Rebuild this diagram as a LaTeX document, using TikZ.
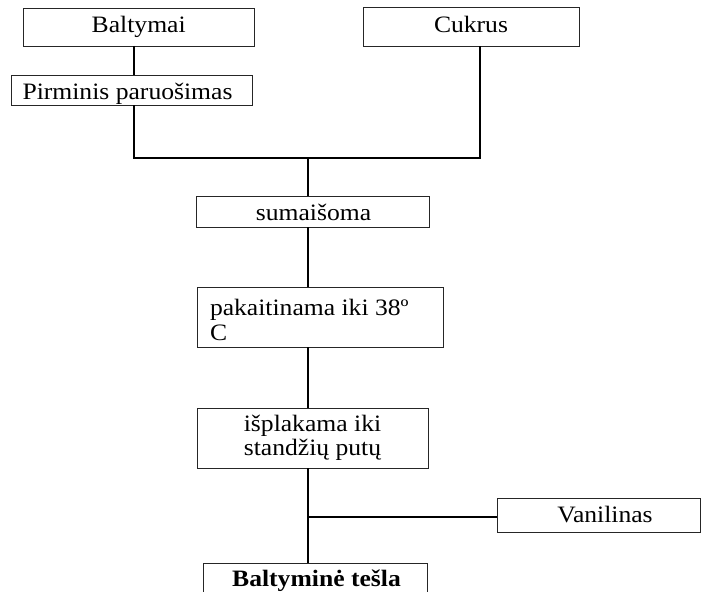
\documentclass[tikz,border=0pt]{standalone}
\usepackage{fontspec}
\setmainfont[FakeStretch=1.09]{Liberation Serif}
\begin{document}
\begin{tikzpicture}[x=1pt,y=-1pt,
  box/.style={draw=black!85, line width=0.9pt, rectangle, inner sep=0pt, outer sep=0pt},
  link/.style={draw=black, line width=1.3pt},
  txt/.style={inner sep=0pt, outer sep=0pt, anchor=base, font=\fontsize{23.5}{24}\selectfont},
  txtl/.style={txt, anchor=base west}]
\useasboundingbox (0,0) rectangle (703,591);
\clip (0,0) rectangle (703,591);

% boxes
\node[box, minimum width=231, minimum height=38] (balt) at (138.5,27) {};
\node[box, minimum width=241, minimum height=30] (pirm) at (131.5,90.5) {};
\node[box, minimum width=216, minimum height=39] (cuk)  at (471,27) {};
\node[box, minimum width=233, minimum height=31] (sum)  at (312.5,211.5) {};
\node[box, minimum width=246, minimum height=60] (pak)  at (320,317) {};
\node[box, minimum width=231, minimum height=60] (isp)  at (312.5,438) {};
\node[box, minimum width=203, minimum height=34] (van)  at (598.5,515) {};
\node[box, minimum width=224, minimum height=44] (bt)   at (315,585) {};

% labels
\node[txt] (baltT) at (138.7,32.5) {Baltymai};
\node[txt] (pirmT) at (127.5,99.5) {Pirminis paruošimas};
\node[txt] (cukT)  at (471,33) {Cukrus};
\node[txt] (sumT)  at (313.5,220.7) {sumaišoma};
\node[txtl] (pakT1) at (210,315.5) {pakaitinama iki 38º};
\node[txtl] (pakT2) at (210,340) {C};
\node[txt] (ispT1) at (312.5,431.7) {išplakama iki};
\node[txt] (ispT2) at (312.5,455.7) {standžių putų};
\node[txt] (vanT)  at (605,522) {Vanilinas};
\node[txt, font=\fontsize{23.5}{24}\selectfont\bfseries] (btT) at (316.5,586.7) {Baltyminė tešla};

% junction points
\coordinate (jl) at (134,158);
\coordinate (jr) at (480,158);
\coordinate (jm) at (308,158);
\coordinate (jv) at (308,517);

% connectors
\draw[link] (balt.south -| jl) -- (pirm.north -| jl);
\draw[link] (pirm.south -| jl) -- (jl) -- (jr) -- (cuk.south -| jr);
\draw[link] (jm) -- (sum.north -| jm);
\draw[link] (sum.south -| jm) -- (pak.north -| jm);
\draw[link] (pak.south -| jm) -- (isp.north -| jm);
\draw[link] (isp.south -| jm) -- (bt.north -| jm);
\draw[link] (jv) -- (van.west |- jv);
\end{tikzpicture}
\end{document}
